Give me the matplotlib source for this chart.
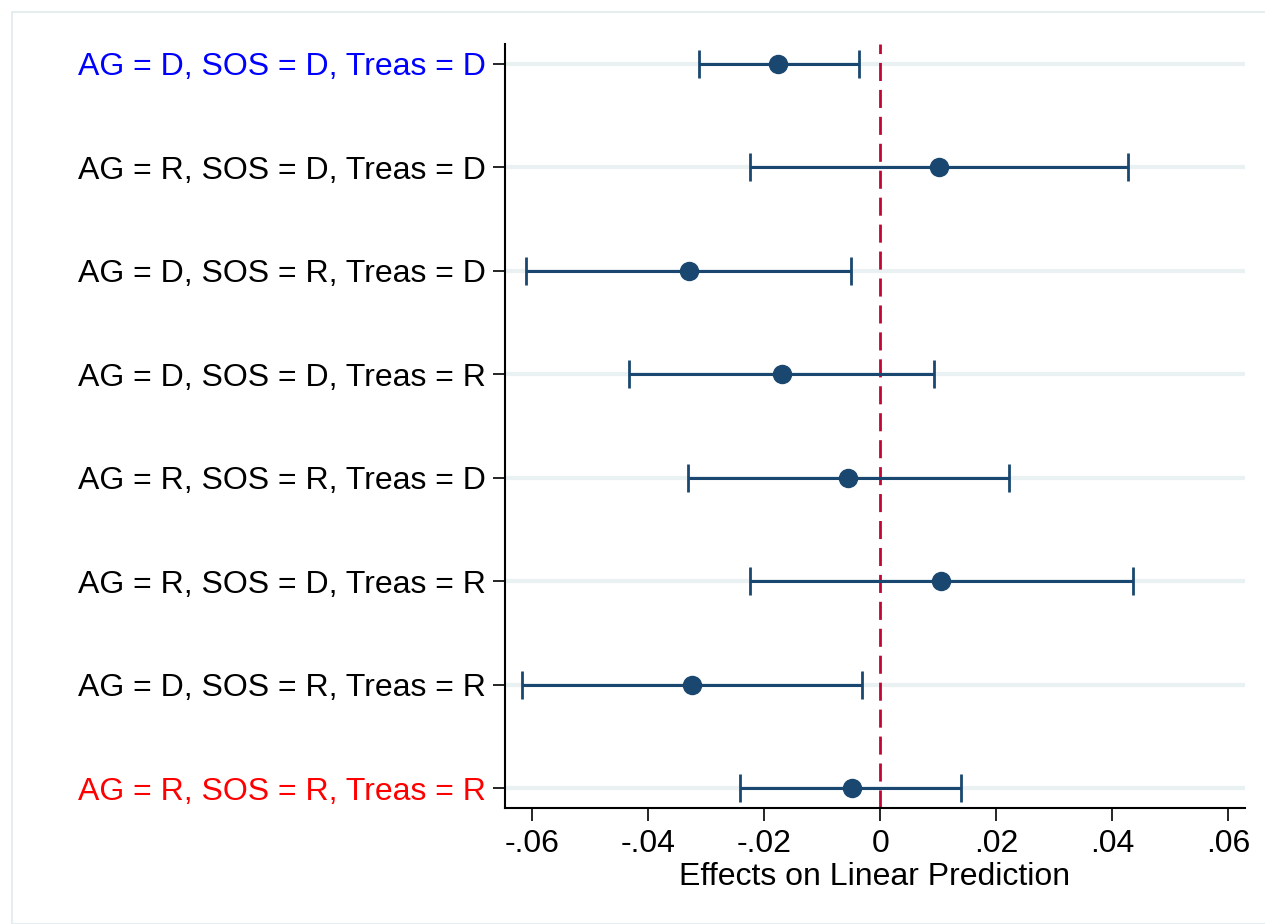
import matplotlib
matplotlib.use("Agg")
import matplotlib.pyplot as plt
from matplotlib.patches import Rectangle

plt.rcParams['font.family'] = ['Liberation Sans', 'DejaVu Sans']

labels = ["AG = D, SOS = D, Treas = D",
          "AG = R, SOS = D, Treas = D",
          "AG = D, SOS = R, Treas = D",
          "AG = D, SOS = D, Treas = R",
          "AG = R, SOS = R, Treas = D",
          "AG = R, SOS = D, Treas = R",
          "AG = D, SOS = R, Treas = R",
          "AG = R, SOS = R, Treas = R"]
label_colors = ["#0000ff", "black", "black", "black", "black", "black", "black", "#ff0000"]
estimates = [-0.0176, 0.0101, -0.0330, -0.0170, -0.0056, 0.0105, -0.0325, -0.0049]
ci_low = [-0.0312, -0.0224, -0.0611, -0.0433, -0.0332, -0.0224, -0.0618, -0.0241]
ci_high = [-0.0036, 0.0427, -0.0050, 0.0093, 0.0222, 0.0436, -0.0032, 0.0140]
xticks = [-0.06, -0.04, -0.02, 0, 0.02, 0.04, 0.06]
xticklabels = ["-.06", "-.04", "-.02", "0", ".02", ".04", ".06"]

navy = "#1a476f"
fig = plt.figure(figsize=(12.65, 9.24), dpi=100)
fig.patches.append(Rectangle((12/1265, 0), 1.0, 1 - 12/924, transform=fig.transFigure,
                             fill=False, edgecolor="#e6edef", linewidth=1.5))
ax = fig.add_axes([505/1265, 1 - 808/924, (1245 - 505)/1265, (808 - 44)/924])

pos = list(range(1, len(labels) + 1))
for p in pos:
    ax.axhline(p, color="#eaf1f3", linewidth=3, zorder=0)
ax.axvline(0, color="#c10534", linestyle=(0, (6.5, 3.2)), linewidth=2.0, zorder=1)

xerr = [[e - l for e, l in zip(estimates, ci_low)], [h - e for e, h in zip(estimates, ci_high)]]
ax.errorbar(estimates, pos, xerr=xerr, fmt="o", color=navy, ecolor=navy,
            markersize=13, elinewidth=2.2, capsize=10, capthick=2.0, zorder=3)

ax.set_ylim(8.19, 0.81)
ax.set_xlim(-0.0647, 0.0629)
ax.set_yticks(pos)
ax.set_yticklabels(labels, fontsize=23)
for t, c in zip(ax.get_yticklabels(), label_colors):
    t.set_color(c)
ax.set_xticks(xticks)
ax.set_xticklabels(xticklabels, fontsize=23)
ax.set_xlabel("Effects on Linear Prediction", fontsize=23, labelpad=2)
ax.tick_params(axis="both", direction="out", length=9, width=1.2)
ax.tick_params(axis="x", pad=6)
ax.tick_params(axis="y", pad=5)
ax.spines["top"].set_visible(False)
ax.spines["right"].set_visible(False)
ax.spines["left"].set_linewidth(1.5)
ax.spines["bottom"].set_linewidth(1.5)

fig.savefig("out.png", dpi=100)
